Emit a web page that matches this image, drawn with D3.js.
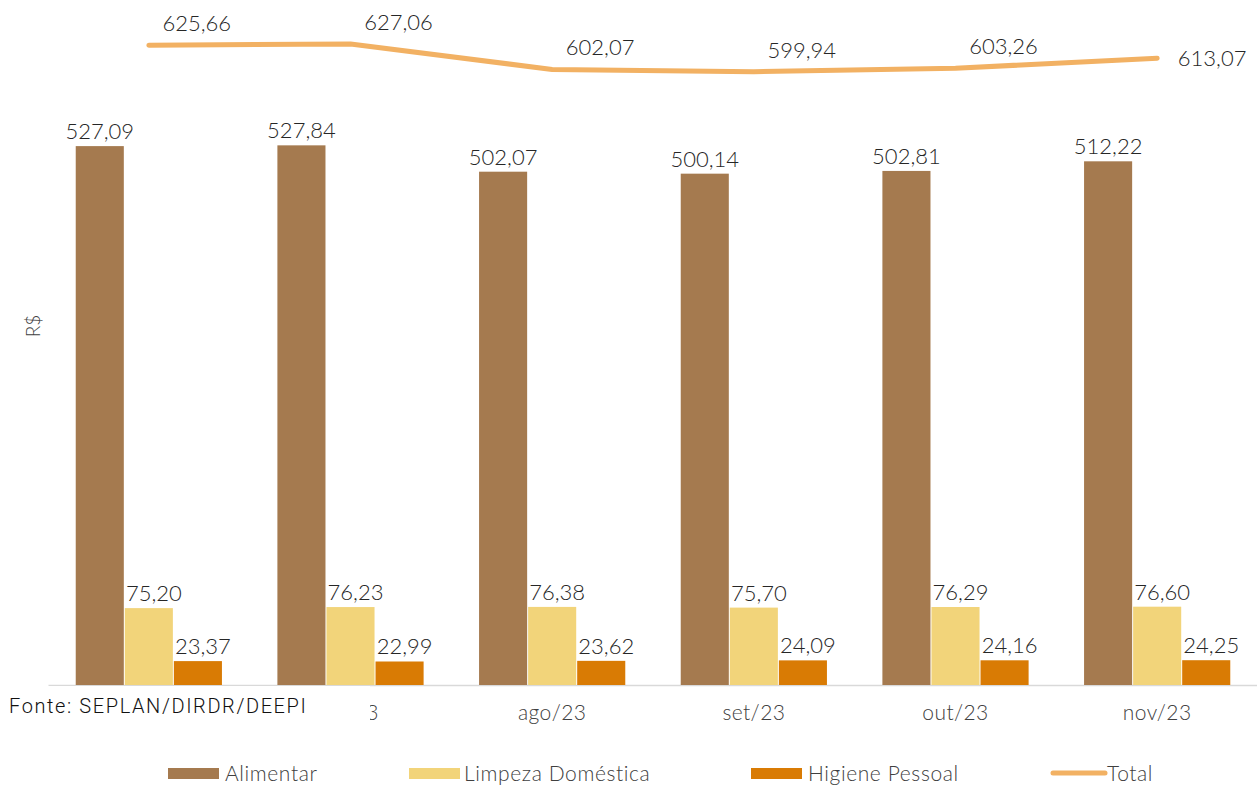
<!DOCTYPE html>
<html><head><meta charset="utf-8">
<script src="https://cdn.jsdelivr.net/npm/d3@7/dist/d3.min.js"></script>
<style>body{margin:0;background:#fff}svg{display:block}text{font-family:Lato,"Open Sans",sans-serif;font-weight:300}</style>
</head><body><svg id="c" width="1257" height="785"></svg>
<script>
const categories = ["jun/23","jul/23","ago/23","set/23","out/23","nov/23"];
const alimentar = [527.09,527.84,502.07,500.14,502.81,512.22];
const limpeza = [75.20,76.23,76.38,75.70,76.29,76.60];
const higiene = [23.37,22.99,23.62,24.09,24.16,24.25];
const total = [625.66,627.06,602.07,599.94,603.26,613.07];
const seriesNames = ["Alimentar","Limpeza Doméstica","Higiene Pessoal","Total"];
const colors = ["#A57A4F","#F2D47A","#D97B04","#F2B163"];
const fmt = v => v.toFixed(2).replace(".", ",");

const svg = d3.select("#c");
const x = d3.scaleBand().domain(categories).range([48,1258]).paddingInner(0.275).paddingOuter(0.1375);
const y = d3.scaleLinear().domain([0,670]).range([685,0]);
const barSeries = [alimentar, limpeza, higiene];
const xs = d3.scaleBand().domain([0,1,2]).range([0,x.bandwidth()]).paddingInner(0.02);

// axis
const ax = svg.append("g").attr("transform","translate(0,685)").call(d3.axisBottom(x).tickSize(0).tickPadding(20));
ax.select(".domain").attr("stroke","#d9d9d9").attr("stroke-width",1.5);
ax.selectAll("text").attr("font-size",21).attr("fill","#404040").style("font-family","Lato").style("font-weight",300).attr("letter-spacing",0.4);

barSeries.forEach((s,i)=>{
  const g = svg.append("g");
  g.selectAll("rect").data(s).join("rect")
    .attr("x",(d,j)=>x(categories[j])+xs(i)).attr("width",xs.bandwidth())
    .attr("y",d=>y(d)).attr("height",d=>y(0)-y(d)).attr("fill",colors[i]);
  g.selectAll("text").data(s).join("text")
    .attr("x",(d,j)=>x(categories[j])+xs(i)+xs.bandwidth()/2+(i===0?0:5))
    .attr("y",d=>y(d)-7).attr("text-anchor","middle")
    .attr("font-size",22).attr("fill","#262626").text(d=>fmt(d));
});

const cx = (j)=>x(categories[j])+x.bandwidth()/2;
const line = d3.line().x((d,j)=>cx(j)).y(d=>y(d));
svg.append("path").datum(total).attr("d",line).attr("fill","none")
  .attr("stroke",colors[3]).attr("stroke-width",5).attr("stroke-linecap","round").attr("stroke-linejoin","round");
svg.append("g").selectAll("text").data(total).join("text")
  .attr("x",(d,j)=> j===total.length-1 ? cx(j)+55 : cx(j)+48)
  .attr("y",(d,j)=> j===total.length-1 ? y(d)+8 : y(d)-14)
  .attr("text-anchor","middle").attr("font-size",22).attr("fill","#262626").text(d=>fmt(d));

// y title
svg.append("text").attr("transform","translate(40,326) rotate(-90)").attr("text-anchor","middle")
  .attr("font-size",19).attr("fill","#404040").text("R$");

// legend
const leg = [{x:168,t:225},{x:409,t:464},{x:751,t:808},{x:1051,t:1107}];
leg.forEach((l,i)=>{
  if(i<3) svg.append("rect").attr("x",l.x).attr("y",768).attr("width",51).attr("height",11).attr("fill",colors[i]);
  else svg.append("line").attr("x1",l.x+2).attr("x2",l.x+54).attr("y1",773).attr("y2",773).attr("stroke",colors[3]).attr("stroke-width",5).attr("stroke-linecap","round");
  svg.append("text").attr("x",l.t).attr("y",781).attr("font-size",21).attr("letter-spacing",0.6).attr("fill","#404040").text(seriesNames[i]);
});

// source box overlay
svg.append("rect").attr("x",0).attr("y",686).attr("width",370).attr("height",40).attr("fill","#fff");
svg.append("text").attr("x",9).attr("y",713).attr("font-size",20).attr("fill","#111")
  .style("font-family","Roboto,'Noto Sans',sans-serif").style("font-weight",300).attr("letter-spacing",1.6)
  .text("Fonte: SEPLAN/DIRDR/DEEPI");
</script></body></html>
